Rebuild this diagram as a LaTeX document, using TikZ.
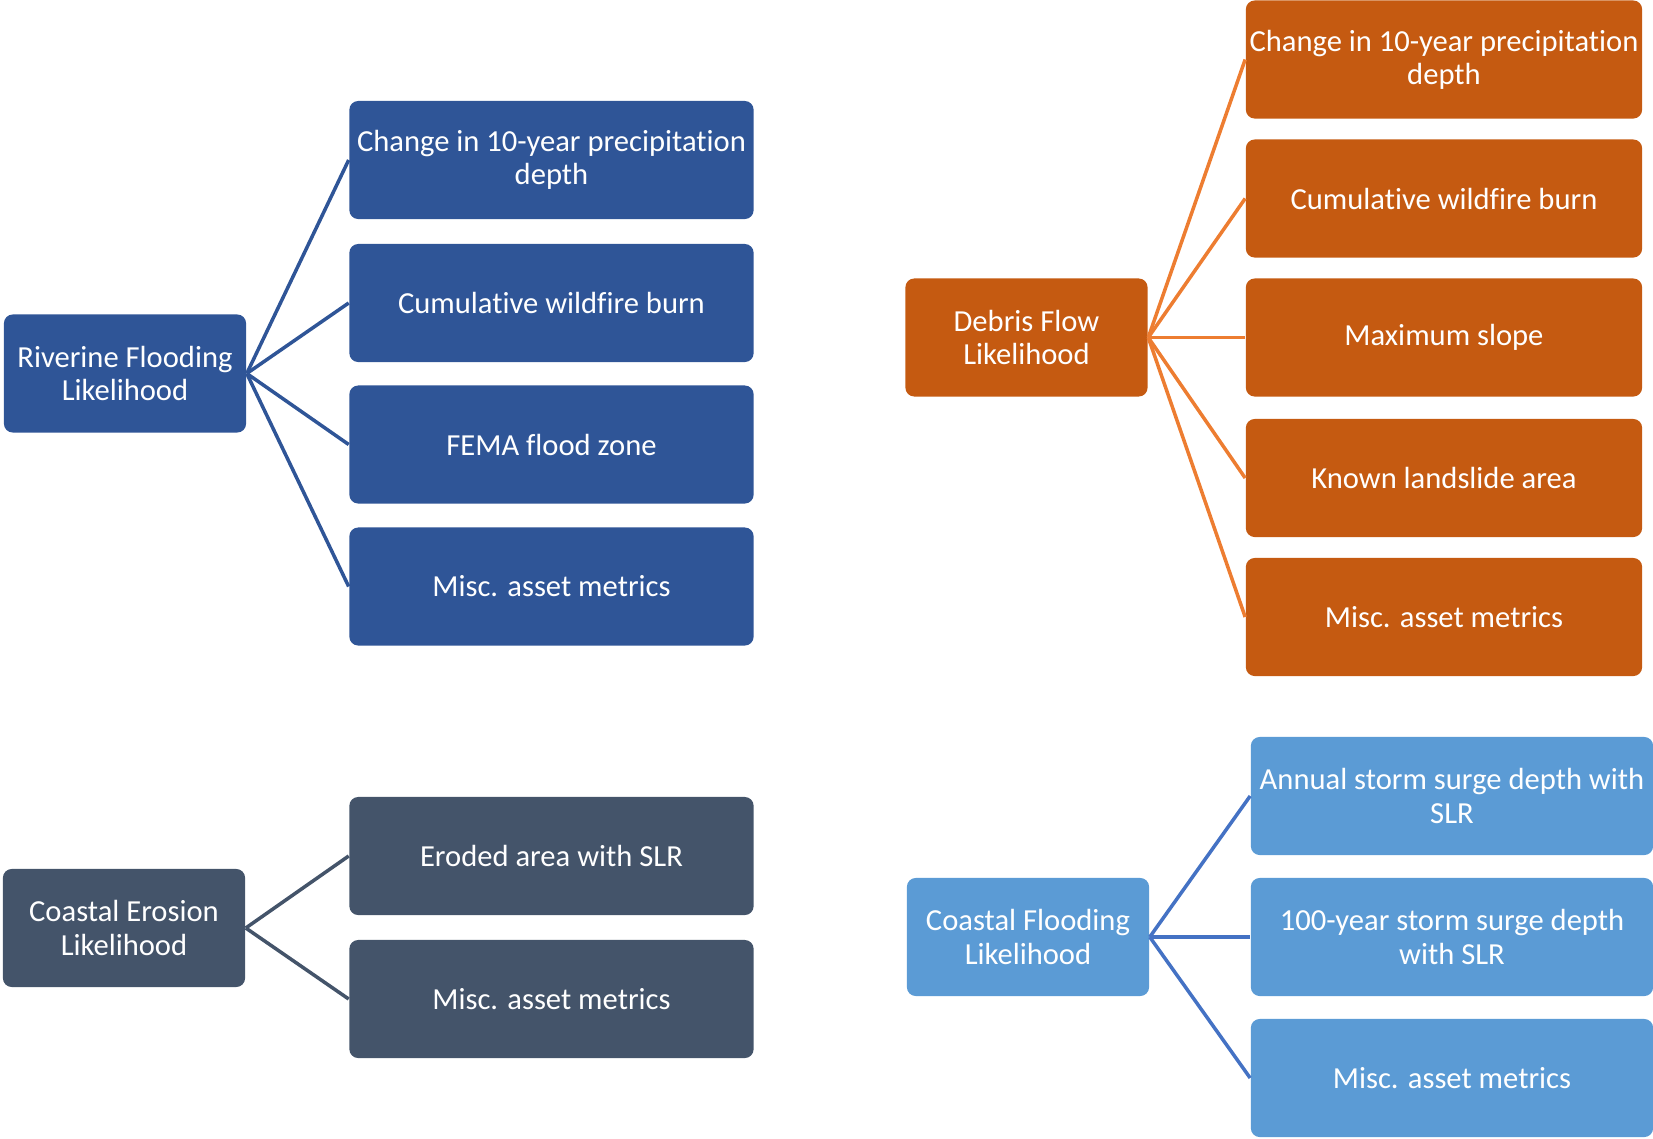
\documentclass[tikz,border=0pt]{standalone}
\usepackage{fontspec}
\setmainfont{Carlito}[Ligatures=NoCommon]
\usepackage{tikz}

\definecolor{riverfill}{HTML}{2F5597}
\definecolor{debrisfill}{HTML}{C55A11}
\definecolor{debrisline}{HTML}{ED7D31}
\definecolor{erosionfill}{HTML}{44546A}
\definecolor{coastfill}{HTML}{5B9BD5}
\definecolor{coastline}{HTML}{4472C4}

\begin{document}
\begin{tikzpicture}[x=0.01cm, y=-0.01cm,
  box/.style={rounded corners=2.5pt, inner sep=0pt, text=white, align=center,
    font=\fontsize{8.7}{9.4}\selectfont},
  parentbox/.style={box, minimum width=2.42cm, minimum height=1.18cm},
  childbox/.style={box, minimum width=4.04cm, minimum height=1.18cm}]
  \useasboundingbox (0,0) rectangle (1653,1139);
  \node[parentbox, fill=riverfill] (river) at (125,373.5) {Riverine Flooding\\Likelihood};
  \node[childbox, fill=riverfill] (river1) at (551.5,160) {Change in 10-year precipitation\\depth};
  \node[childbox, fill=riverfill] (river2) at (551.5,303) {Cumulative wildfire burn};
  \node[childbox, fill=riverfill] (river3) at (551.5,444.5) {FEMA flood zone};
  \node[childbox, fill=riverfill] (river4) at (551.5,586.5) {Misc. asset metrics};
  \draw[riverfill, line width=1pt] (river.east) -- (river1.west);
  \draw[riverfill, line width=1pt] (river.east) -- (river2.west);
  \draw[riverfill, line width=1pt] (river.east) -- (river3.west);
  \draw[riverfill, line width=1pt] (river.east) -- (river4.west);
  \node[parentbox, fill=debrisfill] (debris) at (1026.5,337.5) {Debris Flow\\Likelihood};
  \node[childbox, fill=debrisfill, minimum width=3.96cm] (debris1) at (1444,59.5) {Change in 10-year precipitation\\depth};
  \node[childbox, fill=debrisfill, minimum width=3.96cm] (debris2) at (1444,198.5) {Cumulative wildfire burn};
  \node[childbox, fill=debrisfill, minimum width=3.96cm] (debris3) at (1444,337.5) {Maximum slope};
  \node[childbox, fill=debrisfill, minimum width=3.96cm] (debris4) at (1444,478) {Known landslide area};
  \node[childbox, fill=debrisfill, minimum width=3.96cm] (debris5) at (1444,617) {Misc. asset metrics};
  \draw[debrisline, line width=1pt] (debris.east) -- (debris1.west);
  \draw[debrisline, line width=1pt] (debris.east) -- (debris2.west);
  \draw[debrisline, line width=1pt] (debris.east) -- (debris3.west);
  \draw[debrisline, line width=1pt] (debris.east) -- (debris4.west);
  \draw[debrisline, line width=1pt] (debris.east) -- (debris5.west);
  \node[parentbox, fill=erosionfill] (erosion) at (124,928) {Coastal Erosion\\Likelihood};
  \node[childbox, fill=erosionfill] (erosion1) at (551.5,856) {Eroded area with SLR};
  \node[childbox, fill=erosionfill] (erosion2) at (551.5,999) {Misc. asset metrics};
  \draw[erosionfill, line width=1pt] (erosion.east) -- (erosion1.west);
  \draw[erosionfill, line width=1pt] (erosion.east) -- (erosion2.west);
  \node[parentbox, fill=coastfill] (coast) at (1028,937) {Coastal Flooding\\Likelihood};
  \node[childbox, fill=coastfill, minimum width=4.02cm] (coast1) at (1452,796) {Annual storm surge depth with\\SLR};
  \node[childbox, fill=coastfill, minimum width=4.02cm] (coast2) at (1452,937) {100-year storm surge depth\\with SLR};
  \node[childbox, fill=coastfill, minimum width=4.02cm] (coast3) at (1452,1078) {Misc. asset metrics};
  \draw[coastline, line width=1pt] (coast.east) -- (coast1.west);
  \draw[coastline, line width=1pt] (coast.east) -- (coast2.west);
  \draw[coastline, line width=1pt] (coast.east) -- (coast3.west);
\end{tikzpicture}
\end{document}
